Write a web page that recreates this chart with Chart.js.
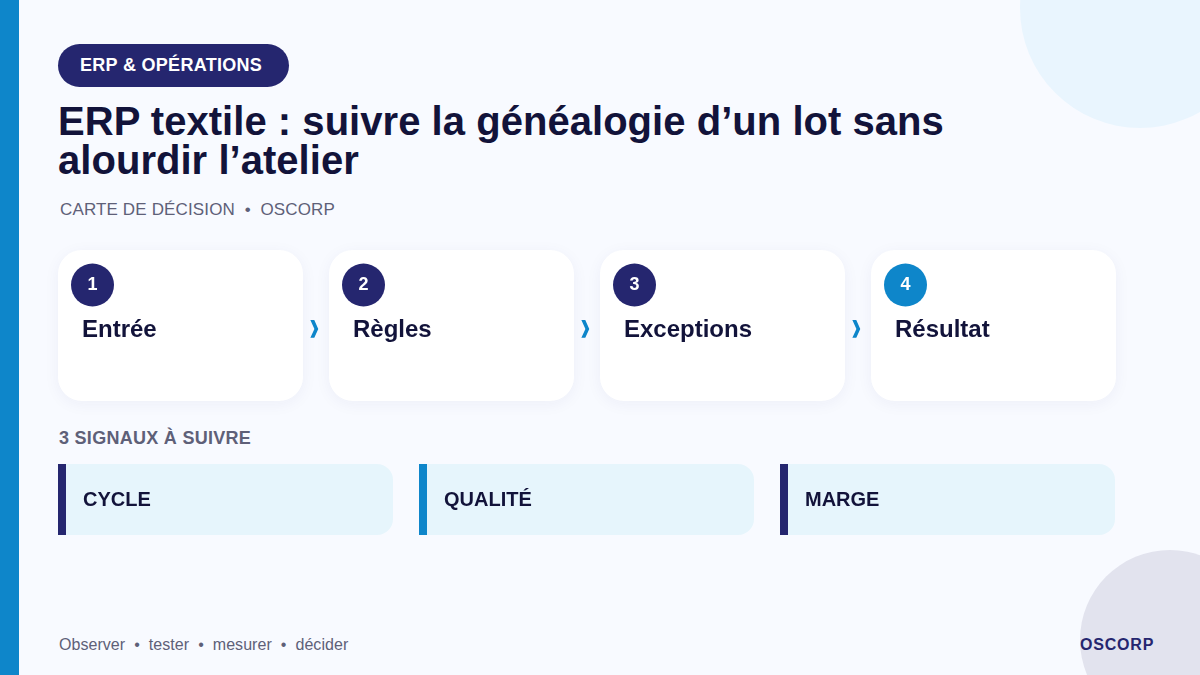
<!DOCTYPE html>
<html lang="fr">
<head>
<meta charset="utf-8">
<title>ERP textile</title>
<script src="https://cdn.jsdelivr.net/npm/chart.js@4"></script>
<style>
    html, body { margin: 0; padding: 0; }
    body {
        width: 1200px; height: 675px; overflow: hidden; position: relative;
        background: #f8faff; font-family: "Liberation Sans", Arial, sans-serif;
    }
    .abs { position: absolute; white-space: nowrap; }
    #rond1 { left: 1020px; top: -112px; width: 240px; height: 240px; border-radius: 50%; background: #e9f5fe; }
    #rond2 { left: 1080px; top: 550px; width: 180px; height: 180px; border-radius: 50%; background: #e2e3ee; }
    #bande { left: 0; top: 0; width: 19px; height: 675px; background: #0e86ca; }
    #badge {
        left: 58px; top: 44px; width: 231px; height: 43px; border-radius: 22px; background: #25266f;
        color: #fff; font-weight: bold; font-size: 18px; line-height: 42px; text-indent: 22px; letter-spacing: 0.3px;
    }
    #titre { left: 58px; top: 102px; font-size: 40px; font-weight: bold; line-height: 39px; color: #12133a; letter-spacing: 0.04px; }
    #sous { left: 60px; top: 200px; font-size: 17px; line-height: 20px; color: #5e6078; white-space: pre; letter-spacing: 0.14px; }
    #section { left: 59px; top: 428px; font-size: 18px; font-weight: bold; line-height: 21px; color: #5e6078; letter-spacing: 0.28px; }
    #pied { left: 59px; top: 635px; font-size: 16px; line-height: 19px; color: #5e6078; white-space: pre; letter-spacing: 0.05px; }
    #marque { left: 1080px; top: 634.5px; font-size: 16px; font-weight: bold; line-height: 20px; color: #25266f; letter-spacing: 0.8px; }
    canvas { position: absolute; }
</style>
</head>
<body>
<div class="abs" id="rond1"></div>
<div class="abs" id="rond2"></div>
<div class="abs" id="bande"></div>
<div class="abs" id="badge"></div>
<div class="abs" id="titre"></div>
<div class="abs" id="sous"></div>
<div class="abs" id="section"></div>
<canvas id="graficoEtapes" width="1084" height="190" style="left:45px;top:230px"></canvas>
<canvas id="graficoSignaux" width="1083" height="91" style="left:45px;top:454px"></canvas>
<div class="abs" id="pied"></div>
<div class="abs" id="marque"></div>

<script>
const badge = "ERP & OPÉRATIONS";
const titreLignes = ["ERP textile : suivre la généalogie d’un lot sans", "alourdir l’atelier"];
const sousTitre = ["CARTE DE DÉCISION", "OSCORP"];
const sectionTitre = "3 SIGNAUX À SUIVRE";
const piedMots = ["Observer", "tester", "mesurer", "décider"];
const marque = "OSCORP";

const etapes = ["Entrée", "Règles", "Exceptions", "Résultat"];
const etapesValeurs = [1, 1, 1, 1];
const etapesNumeros = ["1", "2", "3", "4"];
const signaux = ["CYCLE", "QUALITÉ", "MARGE"];
const signauxValeurs = [1, 1, 1];

const BLEU_NUIT = "#25266f";
const BLEU = "#0e86ca";
const ENCRE = "#12133a";
const POLICE = '"Liberation Sans", Arial, sans-serif';

document.getElementById("badge").textContent = badge;
document.getElementById("titre").innerHTML = titreLignes.join("<br>");
document.getElementById("sous").textContent = sousTitre.join("  •  ");
document.getElementById("section").textContent = sectionTitre;
document.getElementById("pied").textContent = piedMots.join("  •  ");
document.getElementById("marque").textContent = marque;

const ombreCartes = {
    id: "ombreCartes",
    beforeDatasetDraw(chart) {
        chart.ctx.save();
        chart.ctx.shadowColor = "rgba(30, 35, 110, 0.05)";
        chart.ctx.shadowBlur = 16;
        chart.ctx.shadowOffsetY = 3;
    },
    afterDatasetDraw(chart) {
        chart.ctx.restore();
    }
};

const contenuEtapes = {
    id: "contenuEtapes",
    afterDatasetDraw(chart) {
        const ctx = chart.ctx;
        const barres = chart.getDatasetMeta(0).data;
        barres.forEach((barre, i) => {
            const gauche = barre.x - barre.width / 2;
            const haut = barre.y;

            ctx.save();
            ctx.shadowColor = "transparent";
            ctx.fillStyle = i === barres.length - 1 ? BLEU : BLEU_NUIT;
            ctx.beginPath();
            ctx.arc(gauche + 34.5, haut + 35, 21.5, 0, Math.PI * 2);
            ctx.fill();

            ctx.fillStyle = "#ffffff";
            ctx.font = "bold 18px " + POLICE;
            ctx.textAlign = "center";
            ctx.textBaseline = "middle";
            ctx.fillText(etapesNumeros[i], gauche + 34.5, haut + 35);

            ctx.fillStyle = ENCRE;
            ctx.font = "bold 24px " + POLICE;
            ctx.textAlign = "left";
            ctx.textBaseline = "alphabetic";
            ctx.fillText(etapes[i], gauche + 24, haut + 87);

            if (i < barres.length - 1) {
                // chevron plus gras et plus etroit que la glyphe seule
                ctx.translate(barre.x + barre.width / 2 + 11.5, haut + 79);
                ctx.scale(0.7, 1);
                ctx.fillStyle = BLEU;
                ctx.strokeStyle = BLEU;
                ctx.lineWidth = 1.7;
                ctx.lineJoin = "miter";
                ctx.font = 'bold 16px "DejaVu Sans"';
                ctx.textAlign = "center";
                ctx.textBaseline = "middle";
                ctx.fillText("❯", 0, 0);
                ctx.strokeText("❯", 0, 0);
            }
            ctx.restore();
        });
    }
};

const contenuSignaux = {
    id: "contenuSignaux",
    afterDatasetDraw(chart) {
        const ctx = chart.ctx;
        const couleurs = [BLEU_NUIT, BLEU, BLEU_NUIT];
        chart.getDatasetMeta(0).data.forEach((barre, i) => {
            const gauche = barre.x - barre.width / 2;
            ctx.save();
            ctx.fillStyle = couleurs[i];
            ctx.fillRect(gauche, barre.y, 8, barre.height);
            ctx.fillStyle = ENCRE;
            ctx.font = "bold 20px " + POLICE;
            ctx.textAlign = "left";
            ctx.textBaseline = "alphabetic";
            ctx.fillText(signaux[i], gauche + 25, barre.y + 42);
            ctx.restore();
        });
    }
};

function creerGrafico(id, labels, valeurs, dataset, padding, plugins) {
    return new Chart(document.getElementById(id).getContext("2d"), {
        type: "bar",
        data: {
            labels: labels,
            datasets: [Object.assign({ data: valeurs, clip: false, borderSkipped: false, categoryPercentage: 1 }, dataset)]
        },
        options: {
            responsive: false,
            animation: false,
            events: [],
            devicePixelRatio: 1,
            layout: { padding: padding },
            plugins: { legend: { display: false }, tooltip: { enabled: false } },
            scales: {
                x: { display: false },
                y: { display: false, min: 0, max: 1 }
            }
        },
        plugins: plugins
    });
}

creerGrafico("graficoEtapes", etapes, etapesValeurs,
    { backgroundColor: "#ffffff", borderRadius: 24, barPercentage: 245 / 271 },
    { top: 20, bottom: 19 }, [ombreCartes, contenuEtapes]);

creerGrafico("graficoSignaux", signaux, signauxValeurs,
    { backgroundColor: "#e6f5fc", borderRadius: { topLeft: 0, bottomLeft: 0, topRight: 16, bottomRight: 16 }, barPercentage: 335 / 361 },
    { top: 10, bottom: 10 }, [contenuSignaux]);
</script>
</body>
</html>
